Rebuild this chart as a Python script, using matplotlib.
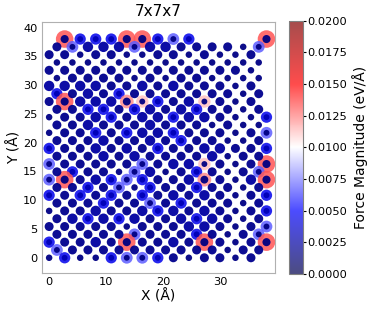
import numpy as np
import matplotlib.pyplot as plt
from matplotlib import cm, colors

# lattice step (a/4 of the 5.43 A cell), atoms sit on the (i, j) grid with i+j even
step = 1.3575

# one string per row, top row (j=28) first; one char per site i = j%2, j%2+2, ...
# s/m/L = small/medium/large dark dot, B = bright blue, V = lavender,
# P = pink, Q = light red, R = red halo, '-' = no atom
rows = [
    "-RBBBRRBVB----R",  # j=28
    "mVLLLVLLmmmmsV",
    "mmsmmssmmsmssm-",
    "ssssssssssssss",
    "mmmmmmmmmmmmms-",
    "smmmmsmsmmssss",
    "LLLLmmLmLmmmsm-",
    "BmLmBmmmmmmmsm",
    "mRLLLQPBmLPmsm-",  # j=20
    "mmBBmBLmLBmmsm",
    "smmLBmLLBLLmssB",
    "mmLmmmLmmmsmss",
    "smmBmBLLBmmmsmV",
    "mmmLmmLmBmmssm",
    "BmmLmLmBmmLLmmB",
    "mmmLmLmmmmLsmm",
    "VmmmmmVmLLPmsmR",
    "mBmmsVLsmBmsmV",
    "VRmLBVBmmLQmsLR",  # j=10
    "mmBmVsBmmBmmsm",
    "BmBmBmBmLmLmsmB",
    "mmmBmmVmBmmmsm",
    "smmLmmLBLmLmsmB",
    "mLBLBLmmLBLmsm",
    "mmmmmsmmmLLmsmV",
    "mmmmmVmmmBmsmV",
    "BmmLmRmmLmRmsmR",
    "Vmmmmmmmmmmsmm",
    "sBssBVVBmsmmsm-",  # j=0
]

# force (eV/A) of the outer, high-force atom in a column, and of the dark core
halo_force = {'B': 0.0045, 'V': 0.0068, 'P': 0.0112, 'Q': 0.0122, 'R': 0.0133}
core_force = {'s': 0.0016, 'm': 0.0018, 'L': 0.0024, 'B': 0.0030,
              'V': 0.0015, 'P': 0.0015, 'Q': 0.0015, 'R': 0.0015}
halo_size = {'B': 66, 'V': 72, 'P': 80, 'Q': 98, 'R': 160}
core_size = {'s': 22, 'm': 42, 'L': 56, 'B': 18, 'V': 18, 'P': 18, 'Q': 32, 'R': 34}

vmin, vmax = 0.0, 0.02
cb_ticks = np.arange(0, 0.02001, 0.0025)

hx, hy, hf, hs = [], [], [], []
cx, cy, cf, cs = [], [], [], []
n = len(rows)
for k, row in enumerate(rows):
    j = n - 1 - k
    for m, ch in enumerate(row):
        if ch == '-':
            continue
        i = j % 2 + 2 * m
        if ch in halo_force:
            hx.append(i * step); hy.append(j * step)
            hf.append(halo_force[ch]); hs.append(halo_size[ch])
        cx.append(i * step); cy.append(j * step)
        cf.append(core_force[ch]); cs.append(core_size[ch])

norm = colors.Normalize(vmin=vmin, vmax=vmax)

fig = plt.figure(figsize=(3.74, 3.12), dpi=100)
ax = fig.add_axes([0.1115, 0.124, 0.6238, 0.806])
cax = fig.add_axes([0.7735, 0.122, 0.0358, 0.812])

ax.scatter(hx, hy, c=hf, s=hs, cmap='seismic', norm=norm, alpha=0.85, linewidths=0)
ax.scatter(cx, cy, c=cf, s=cs, cmap='seismic', norm=norm, alpha=0.95, linewidths=0)

ax.set_xlim(-1.3, 39.5)
ax.set_ylim(-2.7, 41.0)
ax.set_xticks([0, 10, 20, 30])
ax.set_yticks(np.arange(0, 41, 5))
ax.tick_params(labelsize=8.2, length=0, pad=3)
for sp in ax.spines.values():
    sp.set_color('#b0b0b0')
ax.set_title('7x7x7', fontsize=11, pad=4)
ax.set_xlabel('X (Å)', fontsize=10, labelpad=1)
ax.set_ylabel('Y (Å)', fontsize=10, labelpad=1)

cb = fig.colorbar(cm.ScalarMappable(norm=norm, cmap='seismic'), cax=cax, alpha=0.7)
cb.set_ticks(cb_ticks)
cb.ax.set_yticklabels(['%.4f' % t for t in cb_ticks])
cb.ax.tick_params(labelsize=8.2, length=2, pad=1)
cb.outline.set_edgecolor('#808080')
cb.set_label('Force Magnitude (eV/Å)', fontsize=10, labelpad=4)

fig.savefig('out.png', dpi=100)
